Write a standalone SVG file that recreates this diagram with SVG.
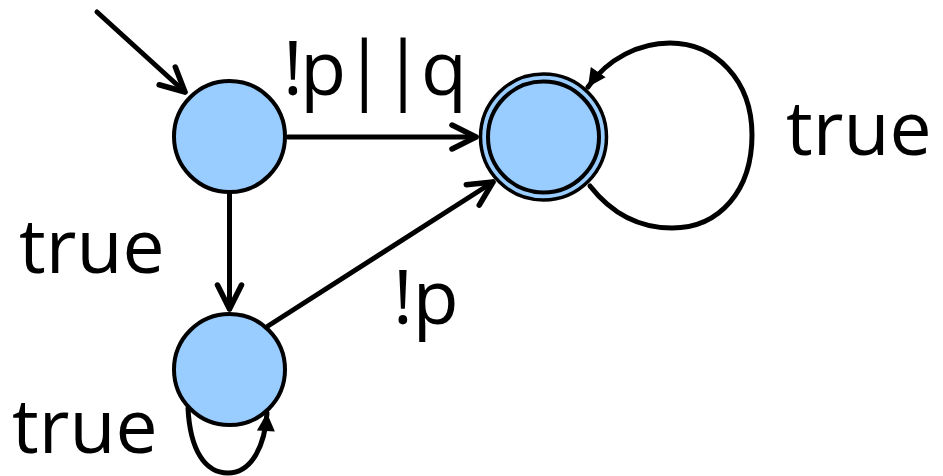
<svg xmlns="http://www.w3.org/2000/svg" width="943" height="476" viewBox="0 0 943 476">
<style>
.node{fill:#99CCFF;stroke:#000;stroke-width:4}
.edge{fill:none;stroke:#000;stroke-width:5;stroke-linecap:round}
.lbl{font-family:"Open Sans","Liberation Sans",sans-serif;font-size:75px;fill:#000}
</style>
<defs>
<marker id="chev" markerUnits="userSpaceOnUse" viewBox="-30 -16 34 32" markerWidth="34" markerHeight="32" refX="0" refY="0" orient="auto">
<path d="M-24,-12 L0,0 L-24,12" fill="none" stroke="#000" stroke-width="5.5" stroke-linecap="round" stroke-linejoin="round"/>
</marker>
<marker id="tri" markerUnits="userSpaceOnUse" viewBox="-20 -11 22 22" markerWidth="22" markerHeight="22" refX="0" refY="0" orient="auto">
<path d="M-18,-9 L0,0 L-18,9 Z" fill="#000"/>
</marker>
</defs>
<g id="connectors">
<line class="edge" x1="97" y1="12" x2="185" y2="92" marker-end="url(#chev)"/>
<line class="edge" x1="288" y1="137" x2="476" y2="137" marker-end="url(#chev)"/>
<line class="edge" x1="268" y1="326" x2="493" y2="182" marker-end="url(#chev)"/>
<line class="edge" x1="229.5" y1="193" x2="229.5" y2="309" marker-end="url(#chev)"/>
<path class="edge" d="M590,186 C612,214 640,228 672,228 C720,228 752,190 752,135 C752,80 715,43 670,43 C640,43 608,58 588,87" marker-end="url(#tri)"/>
<path class="edge" d="M188,408 C190,450 205,473 228,473 C252,473 265,445 267,413" marker-end="url(#tri)"/>
</g>
<g id="s0">
<circle class="node" cx="229.5" cy="136.5" r="55.5"/>
</g>
<g id="s1">
<circle class="node" cx="229.5" cy="369.5" r="55.5"/>
</g>
<g id="s2">
<circle cx="543.5" cy="137" r="63" fill="#99CCFF" stroke="#000" stroke-width="3.5"/>
<circle class="node" cx="543.5" cy="137" r="55.5"/>
</g>
<g id="labels">
<text class="lbl" x="283" y="95" textLength="184" lengthAdjust="spacing">!p||q</text>
<text class="lbl" x="786" y="155">true</text>
<text class="lbl" x="19" y="273">true</text>
<text class="lbl" x="12" y="453">true</text>
<text class="lbl" x="393" y="324">!p</text>
</g>
</svg>
